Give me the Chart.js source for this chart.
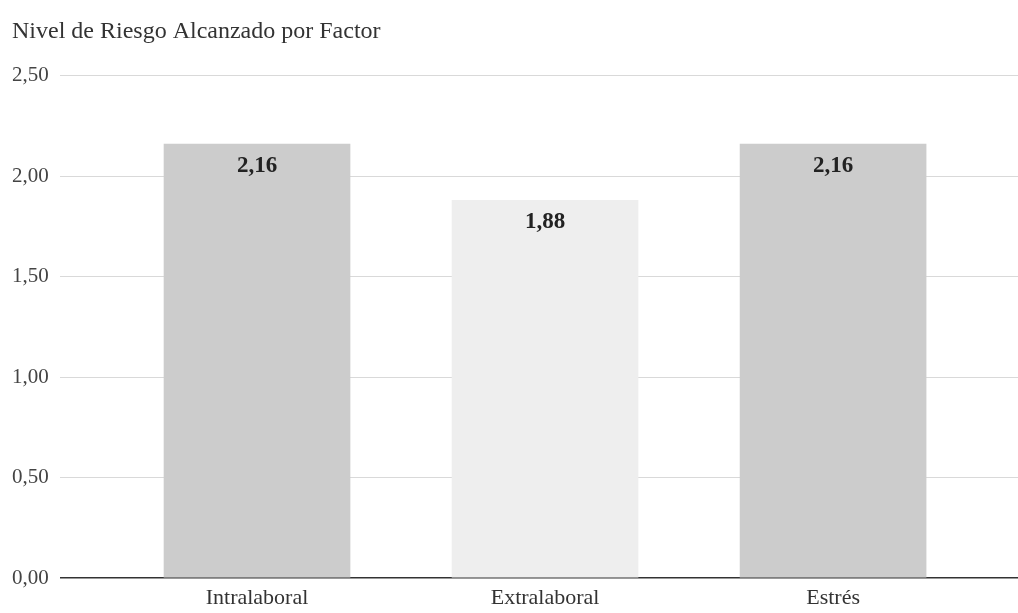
<!DOCTYPE html>
<html>
<head>
<meta charset="utf-8">
<script src="https://cdn.jsdelivr.net/npm/chart.js@4/dist/chart.umd.min.js"></script>
<style>
  html, body { margin: 0; padding: 0; background: #ffffff; }
  canvas { display: block; }
</style>
</head>
<body>
<canvas id="chart" width="1018" height="613"></canvas>
<script>
// Factor names along the x axis
const categories = ['Intralaboral', 'Extralaboral', 'Estrés'];
// Risk level reached per factor
const riskLevels = [2.16, 1.88, 2.16];
// Bar fill per factor
const barColors = ['#cccccc', '#eeeeee', '#cccccc'];
// Y axis tick values
const yTicks = [0, 0.5, 1, 1.5, 2, 2.5];

const SERIF = '"Liberation Serif", "DejaVu Serif", serif';
const fmt = v => v.toFixed(2).replace('.', ',');

// Positions of the categories on a numeric x scale
const points = riskLevels.map((v, i) => ({ x: i, y: v }));

// Writes each value inside the top of its bar
const valueLabels = {
  id: 'valueLabels',
  afterDatasetsDraw(chart) {
    const ctx = chart.ctx;
    const meta = chart.getDatasetMeta(0);
    ctx.save();
    ctx.font = 'bold 23px ' + SERIF;
    ctx.fillStyle = '#222222';
    ctx.textAlign = 'center';
    ctx.textBaseline = 'middle';
    meta.data.forEach((bar, i) => {
      ctx.fillText(fmt(riskLevels[i]), bar.x, bar.y + 22);
    });
    ctx.restore();
  }
};

new Chart(document.getElementById('chart'), {
  type: 'bar',
  data: {
    datasets: [{
      data: points,
      backgroundColor: barColors,
      borderWidth: 0,
      barThickness: 186
    }]
  },
  options: {
    responsive: false,
    animation: false,
    layout: { padding: { left: 12, right: 0, top: 0, bottom: -5 } },
    plugins: {
      legend: { display: false },
      tooltip: { enabled: false },
      title: {
        display: true,
        text: 'Nivel de Riesgo Alcanzado por Factor',
        align: 'start',
        color: '#333333',
        font: { family: SERIF, size: 24, weight: 'normal' },
        padding: { top: 17, bottom: 30 }
      }
    },
    scales: {
      x: {
        type: 'linear',
        offset: false,
        min: -0.684,
        max: 2.642,
        afterBuildTicks: axis => { axis.ticks = categories.map((_, i) => ({ value: i })); },
        ticks: {
          callback: v => categories[v],
          color: '#333333',
          font: { family: SERIF, size: 22, lineHeight: 1 },
          padding: 9,
          maxRotation: 0,
          autoSkip: false
        },
        grid: { display: false, drawTicks: false },
        border: { display: false }
      },
      y: {
        min: 0,
        max: 2.5,
        afterBuildTicks: axis => { axis.ticks = yTicks.map(v => ({ value: v })); },
        afterFit: axis => { axis.width = 48; },
        ticks: {
          callback: v => fmt(v),
          color: '#444444',
          font: { family: SERIF, size: 21 },
          crossAlign: 'far',
          padding: 0
        },
        grid: {
          drawTicks: false,
          color: ctx => ctx.tick && ctx.tick.value === 0 ? '#333333' : '#d9d9d9',
          lineWidth: ctx => ctx.tick && ctx.tick.value === 0 ? 1.6 : 1
        },
        border: { display: false }
      }
    }
  },
  plugins: [valueLabels]
});
</script>
</body>
</html>
